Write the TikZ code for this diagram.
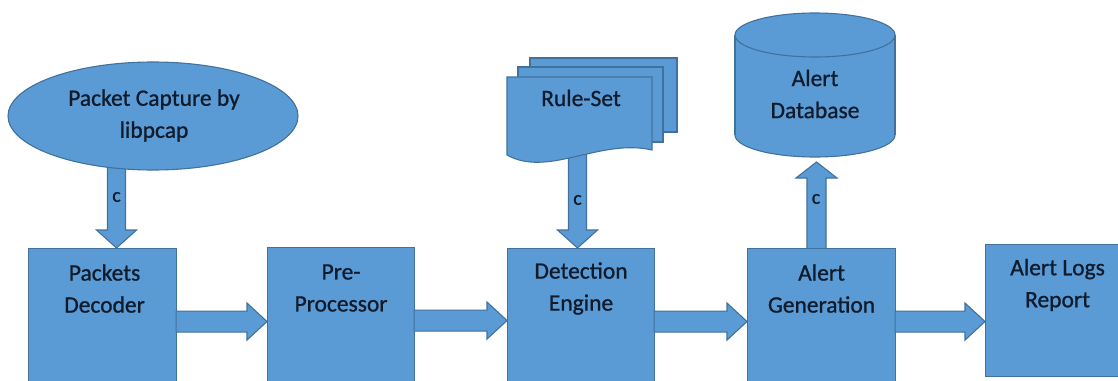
\documentclass[tikz,border=0pt]{standalone}
\usepackage{fontspec}
\setmainfont{Carlito}
\newfontfamily\lblfont{Carlito}[FakeBold=0.9]
\usetikzlibrary{shapes.geometric,calc}
\definecolor{fillblue}{HTML}{5B9BD5}
\definecolor{edgeblue}{HTML}{41719C}
\definecolor{txtc}{HTML}{101B2B}
\pgfdeclarelayer{bg}
\pgfsetlayers{bg,main}
\newcommand\hblock[2]{%
  \draw[blk] let \p1=(#1.east), \p2=(#2.west) in
    (\x1-1pt,\y1+7.5pt) -- (\x2-20pt,\y1+7.5pt) -- (\x2-20pt,\y1+15.5pt) --
    (\x2,\y1-3pt) -- (\x2-20pt,\y1-21.5pt) -- (\x2-20pt,\y1-13.5pt) --
    (\x1-1pt,\y1-13.5pt) -- cycle;}
\newcommand\vdownblock[2]{%
  \draw[blk] let \p1=(#1), \p2=(#2) in
    (\x1-9pt,\y1) -- (\x1-9pt,\y2+18pt) -- (\x1-20pt,\y2+18pt) --
    (\x1,\y2) -- (\x1+20pt,\y2+18pt) -- (\x1+9pt,\y2+18pt) --
    (\x1+9pt,\y1) -- cycle;}
\newcommand\vupblock[2]{%
  \draw[blk] let \p1=(#1), \p2=(#2) in
    (\x1-9.5pt,\y1) -- (\x1-9.5pt,\y2-16pt) -- (\x1-20.5pt,\y2-16pt) --
    (\x1,\y2) -- (\x1+20.5pt,\y2-16pt) -- (\x1+9.5pt,\y2-16pt) --
    (\x1+9.5pt,\y1) -- cycle;}
\begin{document}
\begin{tikzpicture}[x=1pt,y=-1pt,
  shapestyle/.style={fill=fillblue,draw=edgeblue,line width=1.1pt},
  box/.style={shapestyle,rectangle,anchor=north west,inner sep=0pt},
  lbl/.style={text=txtc,font=\lblfont\fontsize{23.5}{32}\selectfont,align=center,inner sep=0pt},
  clbl/.style={text=txtc,font=\lblfont\fontsize{20}{22}\selectfont,inner sep=0pt},
  blk/.style={shapestyle,line join=miter}]
\useasboundingbox (0,0) rectangle (1118,380);
\begin{pgfonlayer}{bg}
\fill[white] (0,0) rectangle (1118,380);
\end{pgfonlayer}

% packet capture ellipse
\node[shapestyle,ellipse,minimum width=290pt,minimum height=108pt,inner sep=0pt] (pc) at (153,116) {};
\node[lbl] (pct) at (154,115.5) {Packet Capture by\\libpcap};

% rule-set multi document
\filldraw[shapestyle] (530,58) rectangle (677,132);
\filldraw[shapestyle] (518,67) rectangle (663,142);
\filldraw[shapestyle] (507,77) -- (652,77) -- (652,150)
   .. controls (600,138) and (548,178) .. (507,155) -- cycle;
\node[lbl] (rs) at (581,98) {Rule-Set};

% alert database cylinder
\filldraw[shapestyle] (815,135) ellipse [x radius=80, y radius=22];
\fill[fillblue] (735,35) rectangle (895,135);
\draw[shapestyle] (735,35) -- (735,135) (895,35) -- (895,135);
\filldraw[shapestyle] (815,35) ellipse [x radius=80, y radius=22];
\node[lbl] (db) at (815,94) {Alert\\Database};

% boxes
\node[box,minimum width=148pt,minimum height=140pt] (pd) at (28,248) {};
\node[box,minimum width=147pt,minimum height=140pt] (pp) at (267,247) {};
\node[box,minimum width=147pt,minimum height=140pt] (de) at (507,248) {};
\node[box,minimum width=148pt,minimum height=140pt] (ag) at (747,248) {};
\node[box,minimum width=150pt,minimum height=132pt] (ar) at (985,244) {};

\node[lbl] (pdt) at ($(pd.north)+(2,40.5)$) {Packets\\Decoder};
\node[lbl] (ppt) at ($(pp.north)+(0,41)$) {Pre-\\Processor};
\node[lbl] (det) at ($(de.north)+(0,40.5)$) {Detection\\Engine};
\node[lbl] (agt) at ($(ag.north)+(0,40.5)$) {Alert\\Generation};
\node[lbl] (art) at ($(ar.north)+(-3,41)$) {Alert Logs\\Report};

% vertical connectors (behind shapes)
\coordinate (s1) at (116.5,150);
\coordinate (s2) at (577.5,150);
\coordinate (s3) at (816.5,252);
\coordinate (t3) at (816.5,162);
\begin{pgfonlayer}{bg}
\vdownblock{s1}{s1 |- pd.north}
\vdownblock{s2}{s2 |- de.north}
\vupblock{s3}{t3}
\end{pgfonlayer}
\node[clbl] (c1) at (116.5,197) {c};
\node[clbl] (c2) at (577.5,200) {c};
\node[clbl] (c3) at (816,199) {c};

% horizontal connectors
\hblock{pd}{pp}
\hblock{pp}{de}
\hblock{de}{ag}
\hblock{ag}{ar}
\end{tikzpicture}
\end{document}
